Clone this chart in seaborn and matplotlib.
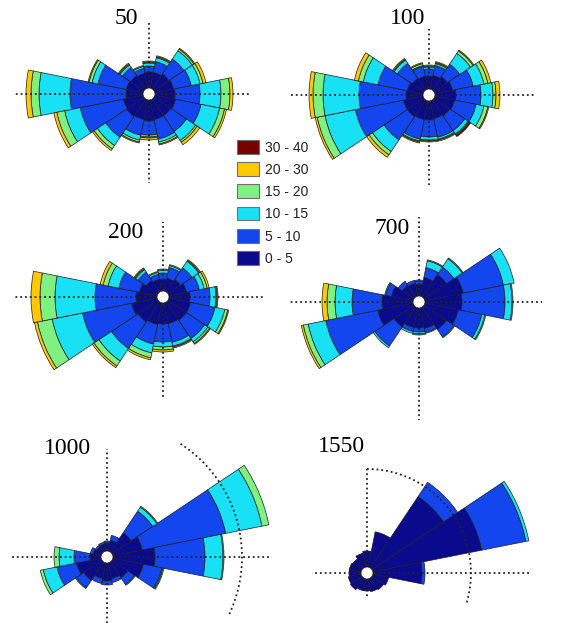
import numpy as np
import matplotlib
matplotlib.use("Agg")
import matplotlib.pyplot as plt
from matplotlib.patches import Patch
import seaborn as sns

sns.set_theme(style="white")
plt.rcParams['font.family'] = ['Liberation Sans', 'DejaVu Sans']

# 16 compass sectors, clockwise from north
directions = ["N", "NNE", "NE", "ENE", "E", "ESE", "SE", "SSE",
              "S", "SSW", "SW", "WSW", "W", "WNW", "NW", "NNW"]
speed_bins = ["0 - 5", "5 - 10", "10 - 15", "15 - 20", "20 - 30", "30 - 40"]
bin_colors = ["#0a0a8c", "#1446f0", "#19e1f5", "#80f080", "#ffc800", "#7a0000"]

heights = ["50", "100", "200", "700", "1000", "1550"]

# frequency per sector (rows follow `directions`), columns follow `speed_bins`
freq_50 = [
    [16, 6, 3, 1, 1, 0], [16, 11, 4, 1, 1, 0], [18, 18, 10, 2, 1, 0], [19, 18, 9, 3, 3, 0],
    [20, 25, 21, 9, 3, 0], [21, 26, 19, 5, 2, 0], [20, 19, 11, 2, 3, 0], [20, 20, 3, 2, 1, 0],
    [21, 14, 2, 1, 2, 0], [20, 16, 5, 2, 1, 0], [21, 25, 10, 4, 2, 0], [20, 44, 16, 8, 3, 0],
    [17, 56, 31, 8, 5, 0], [17, 29, 6, 3, 1, 0], [16, 10, 3, 1, 1, 0], [15, 5, 2, 1, 0, 0],
]
freq_100 = [
    [13, 7, 2, 1, 1, 0], [14, 10, 2, 1, 1, 0], [16, 15, 13, 3, 1, 0], [18, 21, 11, 4, 3, 0],
    [21, 25, 12, 3, 4, 0], [20, 22, 8, 4, 1, 0], [19, 18, 4, 1, 1, 1], [18, 19, 2, 1, 1, 0],
    [19, 17, 3, 1, 1, 0], [19, 20, 2, 1, 1, 0], [20, 28, 14, 4, 3, 0], [20, 49, 31, 8, 2, 0],
    [17, 47, 36, 10, 4, 0], [16, 30, 15, 5, 4, 0], [14, 18, 4, 1, 1, 0], [13, 10, 1, 2, 1, 0],
]
freq_200 = [
    [12, 6, 3, 1, 0, 0], [13, 11, 2, 1, 0, 0], [15, 14, 8, 1, 1, 0], [18, 13, 5, 3, 2, 0],
    [21, 20, 6, 1, 1, 0], [22, 25, 10, 3, 1, 0], [22, 22, 4, 2, 1, 0], [21, 19, 4, 1, 1, 0],
    [21, 18, 5, 3, 2, 0], [22, 20, 9, 5, 2, 0], [24, 32, 15, 6, 2, 0], [26, 50, 31, 15, 3, 0],
    [21, 41, 40, 15, 9, 0], [18, 21, 11, 5, 3, 0], [14, 10, 3, 1, 1, 0], [12, 5, 2, 1, 0, 0],
]
freq_700 = [
    [12, 3, 1, 0, 0, 0], [19, 10, 7, 1, 0, 0], [27, 9, 10, 1, 0, 0], [39, 41, 11, 0, 0, 0],
    [37, 43, 7, 1, 0, 0], [34, 24, 3, 1, 0, 0], [27, 9, 1, 0, 0, 0], [21, 4, 1, 0, 0, 0],
    [20, 4, 2, 1, 0, 0], [20, 4, 2, 0, 0, 0], [24, 23, 2, 0, 0, 0], [36, 53, 18, 5, 2, 0],
    [31, 30, 17, 8, 5, 0], [22, 6, 1, 0, 0, 0], [14, 5, 0, 0, 0, 0], [13, 3, 0, 0, 0, 0],
]
freq_1000 = [
    [8, 2, 0, 0, 0, 0], [11, 5, 0, 0, 0, 0], [23, 26, 5, 1, 0, 0], [30, 85, 37, 7, 0, 0],
    [42, 50, 18, 1, 0, 0], [31, 19, 1, 1, 0, 0], [19, 8, 1, 0, 0, 0], [16, 4, 0, 0, 0, 0],
    [18, 4, 0, 0, 0, 0], [16, 5, 0, 0, 0, 0], [22, 9, 1, 0, 0, 0], [25, 20, 14, 3, 0, 0],
    [11, 16, 15, 5, 0, 0], [8, 3, 0, 0, 0, 0], [6, 2, 0, 0, 0, 0], [7, 2, 0, 0, 0, 0],
]
freq_1550 = [
    [16, 0, 0, 0, 0, 0], [36, 0, 0, 0, 0, 0], [86, 17, 0, 0, 0, 0], [111, 45, 3, 0, 0, 0],
    [49, 3, 0, 0, 0, 0], [16, 0, 0, 0, 0, 0], [14, 0, 0, 0, 0, 0], [13, 0, 0, 0, 0, 0],
    [12, 0, 0, 0, 0, 0], [12, 0, 0, 0, 0, 0], [14, 0, 0, 0, 0, 0], [13, 0, 0, 0, 0, 0],
    [12, 0, 0, 0, 0, 0], [12, 0, 0, 0, 0, 0], [11, 0, 0, 0, 0, 0], [14, 0, 0, 0, 0, 0],
]
all_freq = [freq_50, freq_100, freq_200, freq_700, freq_1000, freq_1550]

# ---- layout (figure pixels) ----
W, H = 574, 623
R = 175          # radial reach of every polar panel, in pixels
HOLE = 6         # empty calm circle at the centre of each rose
centers = [(149, 94), (429, 95), (163, 297), (419, 302), (107, 557), (367, 573)]
title_pos = [(126, 18), (408, 18), (126, 233), (392, 229), (67, 448), (341, 447)]
# dotted cross extents: west, east, north, south
cross = [(134, 101, 71, 89), (141, 106, 66, 90), (150, 100, 75, 100),
         (131, 123, 85, 118), (97, 165, 108, 70), (55, 163, 104, 25)]
# dotted reference ring: (panel index, radius, start bearing, end bearing)
rings = [(4, 135, 33, 115), (5, 104, 0, 107)]

fig = plt.figure(figsize=(W / 100, H / 100), dpi=100)
palette = sns.color_palette(bin_colors)
theta = np.deg2rad(np.arange(len(directions)) * 22.5)
width = 2 * np.pi / len(directions)

axes = []
for idx, (label, freq) in enumerate(zip(heights, all_freq)):
    cx, cy = centers[idx]
    ax = fig.add_axes([(cx - R) / W, 1 - (cy + R) / H, 2 * R / W, 2 * R / H],
                      projection="polar")
    ax.set_theta_zero_location("N")
    ax.set_theta_direction(-1)
    ax.set_ylim(0, R)
    ax.set_axis_off()

    table = np.array(freq, dtype=float).T
    base = np.full(len(directions), float(HOLE))
    for k, row in enumerate(table):
        keep = row > 0
        ax.bar(theta[keep], row[keep], width=width, bottom=base[keep],
               color=palette[k], edgecolor="#1c1c1c", linewidth=0.5,
               align="center", zorder=2)
        base = base + row

    # dotted compass cross, leaving the calm circle clear
    w_, e_, n_, s_ = cross[idx]
    for bearing, length in ((270, w_), (90, e_), (0, n_), (180, s_)):
        t = np.deg2rad(bearing)
        ax.plot([t, t], [HOLE + 1, length], ls=":", color="#222222", lw=1.3,
                zorder=4, clip_on=False)
    axes.append(ax)

    tx, ty = title_pos[idx]
    fig.text(tx / W, 1 - ty / H, label, ha="center", va="center",
             fontsize=17, family=["Liberation Serif", "DejaVu Serif"], color="black")

for idx, radius, a0, a1 in rings:
    t = np.deg2rad(np.linspace(a0, a1, 200))
    axes[idx].plot(t, np.full_like(t, radius), ls=":", color="#222222", lw=1.3,
                   zorder=4, clip_on=False)

handles = [Patch(facecolor=palette[k], edgecolor="#6e6e6e", linewidth=0.8)
           for k in range(len(speed_bins))][::-1]
fig.legend(handles, speed_bins[::-1], loc="upper left",
           bbox_to_anchor=(237 / W, 1 - 140 / H), frameon=False, fontsize=10,
           handlelength=1.6, handleheight=1.15, labelspacing=0.55,
           handletextpad=0.4, borderpad=0, borderaxespad=0, labelcolor="#222222")

fig.savefig("out.png", dpi=100)
